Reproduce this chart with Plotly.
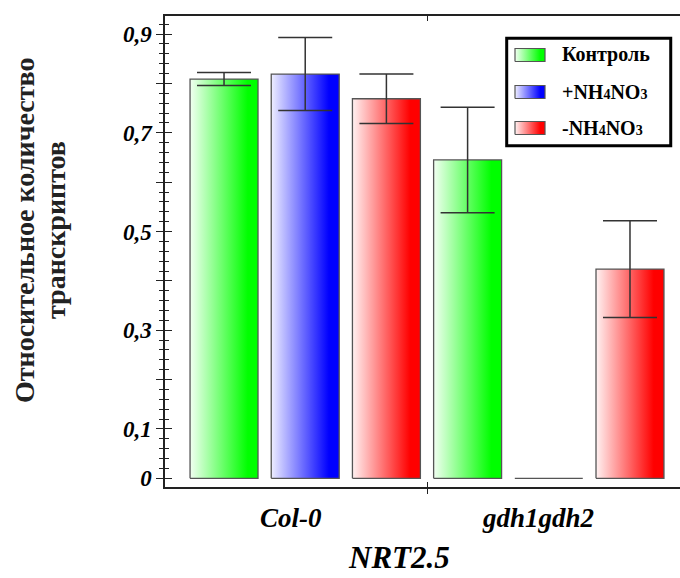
import plotly.graph_objects as go

# ---- data ----
groups = ["Col-0", "gdh1gdh2"]
series = ["Контроль", "+NH<span style='font-size:14px'>4</span>NO<span style='font-size:14px'>3</span>",
          "-NH<span style='font-size:14px'>4</span>NO<span style='font-size:14px'>3</span>"]
control = [0.809, 0.645]
plus_nh4no3 = [0.819, 0.0]
minus_nh4no3 = [0.769, 0.424]
control_err = [0.013, 0.107]
plus_err = [0.074, None]
minus_err = [0.050, 0.098]
y_tickvals = [0, 0.1, 0.2, 0.3, 0.4, 0.5, 0.6, 0.7, 0.8, 0.9]
y_ticktext = ["0", "0,1", "", "0,3", "", "0,5", "", "0,7", "", "0,9"]
y_title = ["Относительное количество", "транскриптов"]
gene = "NRT2.5"

values = [control, plus_nh4no3, minus_nh4no3]
errors = [control_err, plus_err, minus_err]
colors = ["#00ff00", "#0000ff", "#ff0000"]
light = ["#f2fff2", "#eeeeff", "#fff2f2"]

BW = 0.837  # bar width in axis units
SERIF = "Liberation Serif"

fig = go.Figure()


def grad(s):
    return dict(type="horizontal",
                colorscale=[[0, light[s]], [0.85, colors[s]], [1, colors[s]]])


for s in range(3):
    for g in range(2):
        xc = g * 3 + s
        v = values[s][g]
        x0, x1 = xc - BW / 2, xc + BW / 2
        fig.add_trace(go.Scatter(
            x=[x0, x1, x1, x0, x0], y=[0, 0, v, v, 0],
            mode="lines", fill="toself", fillgradient=grad(s),
            line=dict(color="#555555", width=1.3),
            showlegend=False, hoverinfo="skip",
        ))

# error bars
ex, ey, ee = [], [], []
for s in range(3):
    for g in range(2):
        if errors[s][g] is None:
            continue
        ex.append(g * 3 + s)
        ey.append(values[s][g])
        ee.append(errors[s][g])
fig.add_trace(go.Scatter(
    x=ex, y=ey, mode="markers", marker=dict(size=1, color="rgba(0,0,0,0)"),
    error_y=dict(type="data", array=ee, visible=True, color="#333333", thickness=1.5, width=27),
    showlegend=False, hoverinfo="skip",
))

# ---- custom legend (drawn in its own small axes) ----
LEG_X = [0.6635, 0.982]
LEG_Y = [0.7246, 0.9527]
row_y = [0.8445, 0.5, 0.1648]
sw_x0, sw_x1, sw_h = 0.0506, 0.2335, 0.0605
for s in range(3):
    yc = row_y[s]
    fig.add_trace(go.Scatter(
        x=[sw_x0, sw_x1, sw_x1, sw_x0, sw_x0],
        y=[yc - sw_h, yc - sw_h, yc + sw_h, yc + sw_h, yc - sw_h],
        mode="lines", fill="toself", fillgradient=grad(s),
        line=dict(color="#555555", width=1.2),
        xaxis="x3", yaxis="y3", showlegend=False, hoverinfo="skip",
    ))
    fig.add_annotation(text=series[s], xref="x3", yref="y3", x=0.325, y=yc,
                       showarrow=False, xanchor="left", yanchor="middle",
                       font=dict(family=SERIF, size=20, color="black", weight="bold"))
fig.add_shape(type="rect", xref="paper", yref="paper",
              x0=LEG_X[0], x1=LEG_X[1], y0=LEG_Y[0], y1=LEG_Y[1],
              line=dict(color="black", width=3), fillcolor="rgba(0,0,0,0)", layer="above")

# dummy trace to activate overlay axes
fig.add_trace(go.Scatter(x=[None], y=[None], xaxis="x2", yaxis="y2", showlegend=False, hoverinfo="skip"))

xr = [-0.727, 5.616]
yr = [-0.0176, 0.9367]
tickfont = dict(family=SERIF, size=23, color="black", weight="bold", style="italic")
hidden = dict(visible=False, showgrid=False, zeroline=False, range=[0, 1], fixedrange=True)

fig.update_layout(
    width=680, height=578, autosize=False,
    margin=dict(l=165, r=0, t=16, b=91),
    plot_bgcolor="white", paper_bgcolor="white",
    showlegend=False,
    xaxis=dict(range=xr, showline=True, linecolor="#222", linewidth=1.5, mirror="ticks",
               ticks="inside", ticklen=5, tickcolor="#222", tickvals=[2.5], showticklabels=False,
               showgrid=False, zeroline=False),
    xaxis2=dict(range=xr, overlaying="x", anchor="y", side="bottom", showline=False,
                ticks="outside", ticklen=6, tickcolor="#222", tickvals=[2.5], showticklabels=False,
                showgrid=False, zeroline=False),
    yaxis=dict(range=yr, showline=True, linecolor="#222", linewidth=1.5, mirror=False,
               ticks="outside", ticklen=7, tickcolor="#222", tickwidth=1.3,
               tickvals=y_tickvals, ticktext=y_ticktext, tickfont=tickfont,
               minor=dict(dtick=0.02, tick0=0, ticks="outside", ticklen=4, tickcolor="#222", showgrid=False),
               showgrid=False, zeroline=False),
    yaxis2=dict(range=yr, overlaying="y", anchor="x", side="left", showline=False,
                ticks="inside", ticklen=7, tickcolor="#222", tickwidth=1.3,
                tickvals=y_tickvals, showticklabels=False,
                minor=dict(dtick=0.02, tick0=0, ticks="inside", ticklen=4, tickcolor="#222", showgrid=False),
                showgrid=False, zeroline=False),
    xaxis3=dict(hidden, domain=LEG_X, anchor="y3"),
    yaxis3=dict(hidden, domain=LEG_Y, anchor="x3"),
)

fig.add_annotation(text=y_title[0], xref="paper", yref="paper", x=-0.2738, y=0.5456,
                   textangle=-90, showarrow=False, xanchor="center", yanchor="middle",
                   font=dict(family=SERIF, size=28, color="#222", weight="bold"))
fig.add_annotation(text=y_title[1], xref="paper", yref="paper", x=-0.2136, y=0.5456,
                   textangle=-90, showarrow=False, xanchor="center", yanchor="middle",
                   font=dict(family=SERIF, size=28, color="#222", weight="bold"))

labfont = dict(family=SERIF, size=27, color="black", weight="bold", style="italic")
fig.add_annotation(text=groups[0], xref="x", yref="paper", x=0.825, y=-0.0658,
                   showarrow=False, xanchor="center", yanchor="middle", font=labfont)
fig.add_annotation(text=groups[1], xref="x", yref="paper", x=3.861, y=-0.0658,
                   showarrow=False, xanchor="center", yanchor="middle", font=labfont)
fig.add_annotation(text=gene, xref="x", yref="paper", x=2.155, y=-0.1915,
                   showarrow=False, xanchor="center", yanchor="bottom",
                   font=dict(family=SERIF, size=31, color="black", weight="bold", style="italic"))

fig.write_html("out.html")
